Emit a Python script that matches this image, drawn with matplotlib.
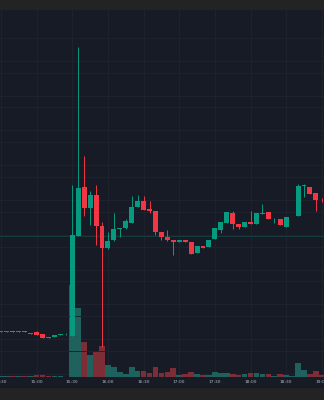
import matplotlib
matplotlib.use('Agg')
import matplotlib.pyplot as plt
from matplotlib.patches import Rectangle

# 5 minute candles, 14:30 .. 19:00
tick_labels = ['14:30', '15:00', '15:30', '16:00', '16:30', '17:00', '17:30', '18:00', '18:30', '19:00']

opens = [4.53, 4.53, 4.60, 4.53, 4.63, 4.33, 4.50, 4.30, 4.00, 4.00, 4.17, 4.27,
         4.13, 14.13, 19.00, 16.93, 18.20, 15.10, 12.87, 13.70, 14.83, 14.93, 15.43, 17.03,
         17.63, 16.80, 16.60, 14.53, 14.03, 13.70, 13.47, 13.70, 13.50, 12.43, 13.13, 12.97,
         13.80, 14.70, 15.43, 16.37, 15.27, 15.03, 15.53, 15.30, 16.33, 16.47, 15.57, 15.77,
         15.03, 16.17, 16.13, 19.10, 19.03, 18.40, 17.73]
highs = [4.63, 4.60, 4.60, 4.63, 4.65, 4.40, 4.63, 4.30, 4.03, 4.17, 4.33, 4.43,
         19.20, 33.03, 22.10, 18.63, 19.20, 15.53, 14.53, 16.37, 14.90, 15.77, 18.10, 18.20,
         18.10, 17.60, 16.60, 14.53, 14.70, 13.70, 13.73, 13.70, 13.50, 13.13, 13.13, 13.70,
         14.87, 15.47, 16.47, 16.60, 15.27, 15.53, 16.63, 16.37, 17.30, 16.47, 15.93, 15.77,
         16.00, 16.23, 19.30, 19.30, 19.03, 18.40, 17.93]
lows = [4.50, 4.53, 4.50, 4.53, 4.50, 4.33, 4.17, 3.87, 3.87, 4.00, 4.17, 4.17,
        4.10, 14.10, 16.13, 15.20, 13.20, 3.03, 12.77, 13.63, 13.97, 14.80, 15.43, 17.03,
        16.70, 16.43, 14.20, 13.70, 13.60, 12.20, 13.47, 13.47, 12.27, 12.43, 12.87, 12.97,
        13.80, 14.43, 15.43, 14.77, 14.77, 15.03, 15.30, 15.30, 16.33, 15.77, 15.43, 15.17,
        15.03, 16.17, 16.13, 18.03, 18.27, 16.63, 17.47]
closes = [4.60, 4.60, 4.50, 4.63, 4.53, 4.40, 4.20, 3.90, 3.90, 4.17, 4.30, 4.30,
          14.17, 18.90, 16.93, 18.20, 15.13, 12.87, 13.63, 14.77, 14.87, 15.60, 17.03, 17.63,
          16.70, 16.60, 14.47, 14.03, 13.70, 13.47, 13.70, 13.47, 12.30, 13.13, 12.87, 13.70,
          14.87, 15.47, 16.47, 15.27, 15.03, 15.53, 15.30, 16.37, 16.40, 15.77, 15.63, 15.17,
          16.00, 16.23, 19.10, 19.15, 18.27, 17.70, 17.67]
volumes = [1.0, 1.0, 1.0, 0.7, 1.0, 0.7, 1.7, 2.3, 1.0, 0.7, 0.7, 0.5,
           92, 69, 35, 22, 26, 31, 12, 10.3, 5, 3, 10, 6,
           5.7, 4.3, 9.7, 4.3, 5.3, 8.7, 2, 3, 5.3, 3, 2, 2,
           5, 4, 4, 3.3, 2.3, 3.3, 4.3, 4, 3.3, 3.3, 1.3, 3.3,
           1.7, 1, 14, 6.7, 3, 6.3, 2]
last_price = 14.1

bg = '#171b26'
band = '#232323'
up_col = '#089981'
down_col = '#f23645'
up_vol = '#1f625d'
down_vol = '#7c2d35'
grid_col = '#1f2330'

fig = plt.figure(figsize=(3.24, 4.0), dpi=100, facecolor=band)
fig.patches.append(Rectangle((0, 13 / 400), 1, 10 / 400, transform=fig.transFigure,
                             color=bg, zorder=-5))

ax = fig.add_axes([0, 23 / 400, 1, 367.5 / 400])
ax.set_facecolor(bg)
ax2 = ax.twinx()

x = list(range(-12, -12 + len(opens)))

# volume pane
vcols = [up_vol if c >= o else down_vol for o, c in zip(opens, closes)]
ax.bar(x, volumes, width=0.95, color=vcols, zorder=2)
ax.set_ylim(0, 367.5)
ax.set_yticks([3.1 + 34.8 * i for i in range(10)])
ax.grid(True, color=grid_col, linewidth=0.7, zorder=0)

# candles
cols = [up_col if c >= o else down_col for o, c in zip(opens, closes)]
ax2.axhline(last_price, color='#163b3b', linewidth=0.7, zorder=1)
ax2.vlines(x, lows, highs, colors=cols, linewidth=0.7, zorder=3)
bottoms = [min(o, c) for o, c in zip(opens, closes)]
heights = [max(abs(c - o), 0.08) for o, c in zip(opens, closes)]
ax2.bar(x, heights, bottom=bottoms, width=0.83, color=cols, zorder=4)
ax2.set_ylim(0, 36.75)
ax2.set_yticks([2.61 + 3.48 * i for i in range(10)])
ax2.grid(True, axis='y', color=grid_col, linewidth=0.7, zorder=0)

ax.set_xlim(-12.17, 42.37)
ax.set_xticks(x[::6], tick_labels)
ax.tick_params(axis='x', length=0, pad=2.3, labelsize=3.2, labelcolor='#b2b5be')
for a in (ax, ax2):
    a.tick_params(axis='y', length=0, labelleft=False, labelright=False)
    for s in a.spines.values():
        s.set_visible(False)

plt.savefig('out.png', dpi=100, facecolor=band)
